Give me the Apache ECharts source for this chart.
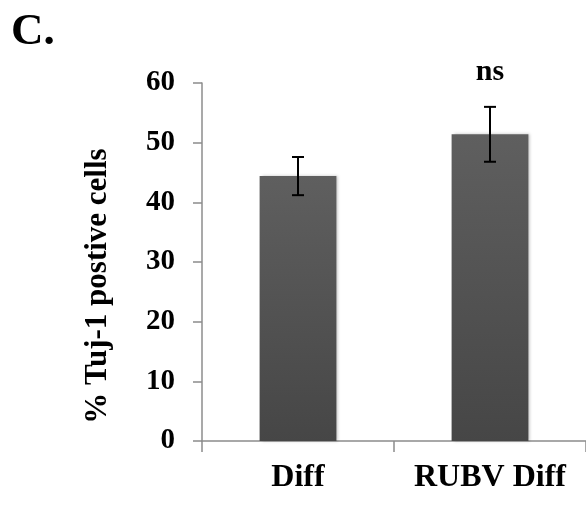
<!DOCTYPE html>
<html>
<head>
<meta charset="utf-8">
<script src="https://cdn.jsdelivr.net/npm/echarts@6/dist/echarts.min.js"></script>
<style>
html,body{margin:0;padding:0;background:#fff;}
#chart{width:586px;height:505px;}
</style>
</head>
<body>
<div id="chart"></div>
<script>
const categories = ["Diff", "RUBV Diff"];
const means = [44.4, 51.4];
const errors = [3.2, 4.6];
const sigLabels = ["", "ns"];
const yTicks = { min: 0, max: 60, interval: 10 };

const serif = '"Liberation Serif", "Times New Roman", serif';
const chart = echarts.init(document.getElementById('chart'));

const errData = categories.map((c, i) => [i, means[i] - errors[i], means[i] + errors[i], sigLabels[i]]);

chart.setOption({
  animation: false,
  backgroundColor: '#ffffff',
  grid: { left: 202, right: -4, top: 83, bottom: 64, containLabel: false },
  graphic: [{
    type: 'text', left: 11, top: 10,
    style: { text: 'C.', font: 'bold 45px ' + serif, fill: '#000' }
  }],
  xAxis: {
    type: 'category',
    data: categories,
    boundaryGap: true,
    axisLine: { show: true, lineStyle: { color: '#8c8c8c', width: 1.5 } },
    axisTick: { show: true, length: 11, interval: 0, alignWithLabel: false, lineStyle: { color: '#8c8c8c', width: 1.5 } },
    axisLabel: { margin: 21, color: '#000', fontFamily: serif, fontWeight: 'bold', fontSize: 32, interval: 0 },
    splitLine: { show: false }
  },
  yAxis: {
    type: 'value',
    min: yTicks.min, max: yTicks.max, interval: yTicks.interval,
    name: '% Tuj-1 postive cells',
    nameLocation: 'middle',
    nameGap: 89,
    nameRotate: 90,
    nameTextStyle: { color: '#000', fontFamily: serif, fontWeight: 'bold', fontSize: 31, padding: [0, 48, 0, 0] },
    axisLine: { show: true, lineStyle: { color: '#8c8c8c', width: 1.5 } },
    axisTick: { show: true, length: 9, lineStyle: { color: '#8c8c8c', width: 1.5 } },
    axisLabel: { margin: 27, color: '#000', fontFamily: serif, fontWeight: 'bold', fontSize: 29 },
    splitLine: { show: false }
  },
  series: [{
    type: 'bar',
    data: means,
    barWidth: '40%',
    itemStyle: {
      color: new echarts.graphic.LinearGradient(0, 0, 0, 1, [
        { offset: 0, color: '#5f5f5f' },
        { offset: 1, color: '#464646' }
      ]),
      shadowColor: 'rgba(0,0,0,0.25)',
      shadowBlur: 3,
      shadowOffsetX: 2
    }
  }, {
    type: 'custom',
    data: errData,
    z: 10,
    renderItem: function (params, api) {
      const x = api.value(0);
      const lo = api.coord([x, api.value(1)]);
      const hi = api.coord([x, api.value(2)]);
      const cap = 6;
      const st = { stroke: '#000', lineWidth: 2 };
      const children = [
        { type: 'line', shape: { x1: hi[0], y1: hi[1], x2: lo[0], y2: lo[1] }, style: st },
        { type: 'line', shape: { x1: hi[0] - cap, y1: hi[1], x2: hi[0] + cap, y2: hi[1] }, style: st },
        { type: 'line', shape: { x1: lo[0] - cap, y1: lo[1], x2: lo[0] + cap, y2: lo[1] }, style: st }
      ];
      const lab = errData[params.dataIndex][3];
      if (lab) {
        children.push({ type: 'text', x: hi[0], y: hi[1] - 35,
          style: { text: lab, font: 'bold 30px ' + serif, fill: '#000', align: 'center', verticalAlign: 'middle' } });
      }
      return { type: 'group', children: children };
    }
  }]
});
</script>
</body>
</html>
